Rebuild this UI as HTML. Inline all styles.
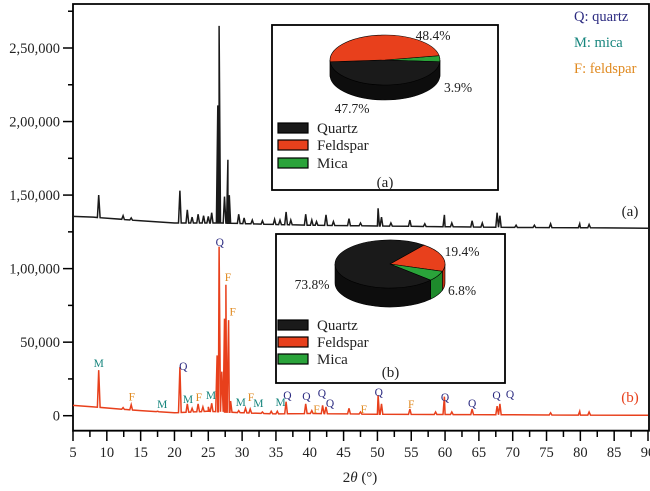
<!DOCTYPE html>
<html><head><meta charset="utf-8"><style>
html,body{margin:0;padding:0;background:#fff;}
svg{display:block;font-family:"Liberation Serif","DejaVu Serif",serif;}
</style></head><body>
<svg id="chart" width="650" height="491" viewBox="0 0 650 491" xmlns="http://www.w3.org/2000/svg">
<g id="plot"></g>
</svg>
<script>
// ---- data ----
const xTicks = [5,10,15,20,25,30,35,40,45,50,55,60,65,70,75,80,85,90];
const yTicks = [0,50000,100000,150000,200000,250000];
const yTickLabels = ["0","50,000","1,00,000","1,50,000","2,00,000","2,50,000"];
// series (a) baseline and peaks
const baseA_x = [5,8,15,20,27,35,40,50,60,70,80,90];
const baseA_y = [135500,135000,132500,131000,131000,130000,129500,129000,128500,128000,127800,127500];
const peaksA_x = [8.8,12.4,13.6,20.8,21.9,22.6,23.5,24.3,25.0,25.5,26.4,26.6,27.4,27.9,28.1,29.5,30.3,31.5,33.0,34.8,35.6,36.5,37.2,39.4,40.3,41.0,42.4,43.5,45.8,47.5,50.1,50.6,52.0,54.8,57.0,59.9,61.0,64.0,65.5,67.7,68.1,70.5,73.2,75.6,79.9,81.3];
const peaksA_y = [150000,136000,134500,153000,140000,135000,137000,136000,135500,138000,211000,265000,149000,174000,150000,137000,134500,133000,132500,133500,133000,138500,133000,137000,133000,132000,136500,132000,134000,131000,141000,135000,131000,133000,130500,136500,131000,132500,131000,138000,136000,129500,129500,130500,130500,130000];
// series (b) baseline and peaks
const baseB_x = [5,8,12,15,20,25,30,35,40,50,60,70,80,90];
const baseB_y = [7000,6000,4500,3500,2000,3000,2000,1200,1500,1000,800,600,400,300];
const peaksB_x = [8.8,12.4,13.6,17.5,20.8,21.9,22.6,23.5,24.2,25.0,25.5,26.3,26.6,27.0,27.4,27.6,27.9,28.0,28.3,29.5,30.5,31.2,33.0,34.3,35.2,36.5,39.4,40.3,41.9,42.4,45.8,47.5,50.1,50.6,54.8,58.6,59.9,61.0,64.0,67.7,68.1,75.6,79.9,81.3];
const peaksB_y = [31000,5500,7500,3000,33000,8000,5000,8000,6000,6000,8500,41000,115000,30000,66000,89000,40000,65000,10000,3500,5000,4500,2500,3000,3000,9500,8000,3500,7000,6000,5000,2500,14000,8000,4500,2500,13000,2500,4500,6500,8000,2000,3000,2500];
// phase annotations
const annText = ["M","F","M","Q","M","F","M","Q","F","F","M","F","M","M","Q","Q","Q","F","Q","F","Q","F","Q","Q","Q","Q"];
const annX = [8.8,13.7,18.2,21.3,22.0,23.6,25.4,26.7,27.9,28.6,29.8,31.3,32.4,35.7,36.7,39.5,41.8,41.0,43.0,48.0,50.2,55.0,60.0,64.0,67.6,69.6];
const annY = [36000,13000,8000,33800,11400,12700,14000,118000,94300,70700,9300,12700,8500,9300,14000,13400,15600,4500,8600,4500,16000,8000,12600,8600,14000,14800];
const pieA_labels = ["Quartz","Feldspar","Mica"];
const pieA_values = [47.7,48.4,3.9];
const pieB_values = [73.8,19.4,6.8];

// ---- axes ----
const X0=73, X1=649, Y0=430.7, Y1=4;
const xs = v => 73 + (v-5)*(648-73)/85;
const ys = v => 415.7 - v*1.4708/1000;
const NS="http://www.w3.org/2000/svg";
const g=document.getElementById('plot');
function mk(tag,attrs,parent){const e=document.createElementNS(NS,tag);for(const k in attrs)e.setAttribute(k,attrs[k]);(parent||g).appendChild(e);return e;}
function txt(s,attrs,parent){const e=mk('text',attrs,parent);e.textContent=s;return e;}

const frame=mk('path',{d:`M${X0},${Y1} H${X1} V${Y0} H${X0} Z`,fill:'none',stroke:'#000','stroke-width':1.8});



for(let v=0; v<=275000; v+=25000){
  const major = v%50000===0;
  const t=mk('line',{x1:major?63:68,x2:X0,y1:ys(v),y2:ys(v),stroke:'#000','stroke-width':1.5});
  
  
}
yTicks.forEach((v,i)=>{
  const t=txt(yTickLabels[i],{x:60,y:ys(v)+5,'text-anchor':'end','font-size':14.5,fill:'#222'});
  
  
});
for(let v=5; v<=90; v+=2.5){
  const major = v%5===0;
  const t=mk('line',{x1:xs(v),x2:xs(v),y1:Y0,y2:major?441:437,stroke:'#000','stroke-width':1.5});
  
  
}
xTicks.forEach(v=>{
  const t=txt(String(v),{x:xs(v),y:457,'text-anchor':'middle','font-size':14.5,fill:'#222'});
  
  
});
const xt=mk('text',{x:360,y:482,'text-anchor':'middle','font-size':15,fill:'#222'});
xt.innerHTML='2<tspan font-style="italic">θ</tspan> (°)';



function interp(bx,by,x){
  for(let i=0;i<bx.length-1;i++){ if(x>=bx[i]&&x<=bx[i+1]){const t=(x-bx[i])/(bx[i+1]-bx[i]);return by[i]+t*(by[i+1]-by[i]);} }
  return by[by.length-1];
}
function seriesPts(bx,by,px,py){
  const pts=[];
  let xsList=bx.map(v=>({x:v,y:null}));
  px.forEach((p,i)=>{xsList.push({x:p-0.2,y:null});xsList.push({x:p,y:py[i]});xsList.push({x:p+0.2,y:null});});
  xsList.sort((a,b)=>a.x-b.x);
  xsList.forEach(o=>{const y=o.y===null?interp(bx,by,o.x):o.y;pts.push(xs(o.x).toFixed(1)+','+ys(y).toFixed(1));});
  return pts.join(' ');
}
const lineA=mk('polyline',{points:seriesPts(baseA_x,baseA_y,peaksA_x,peaksA_y),fill:'none',stroke:'#1a1a1a','stroke-width':1.5});


const lineB=mk('polyline',{points:seriesPts(baseB_x,baseB_y,peaksB_x,peaksB_y),fill:'none',stroke:'#e8401c','stroke-width':1.5});



const la=txt('(a)',{x:630,y:216,'text-anchor':'middle','font-size':15,fill:'#222'});


const lb=txt('(b)',{x:630,y:402,'text-anchor':'middle','font-size':15,fill:'#e8401c'});



const annColor={Q:'#2b2a80',M:'#16857d',F:'#e08a20'};
annText.forEach((s,i)=>{
  const t=txt(s,{x:xs(annX[i]),y:ys(annY[i])+4,'text-anchor':'middle','font-size':11.5,fill:annColor[s]});
  
  
});

[['Q: quartz','#2b2a80',21],['M: mica','#16857d',47],['F: feldspar','#e08a20',73]].forEach(r=>{
  const t=txt(r[0],{x:574,y:r[2],'font-size':14.5,fill:r[1]});
  
  
});

const colors=['#1a1a1a','#e8401c','#2aa33a'];
const sideColors=['#0d0d0d','#c23010','#1e8a2c'];
function pie(grp,cx,cy,rx,ry,depth,vals,startDeg,order){
  const slices=[];let a=startDeg*Math.PI/180;
  order.forEach(i=>{const sw=vals[i]/100*2*Math.PI;slices.push({i,a0:a,a1:a+sw});a+=sw;});
  const P=(t,dy)=>[(cx+rx*Math.cos(t)).toFixed(2),(cy+ry*Math.sin(t)+(dy||0)).toFixed(2)];
  slices.forEach(s=>{
    for(let k=-2;k<=2;k++){
      const lo=Math.max(s.a0,k*2*Math.PI), hi=Math.min(s.a1,k*2*Math.PI+Math.PI);
      if(hi>lo){
        const p1=P(lo),p2=P(hi),p3=P(hi,depth),p4=P(lo,depth);
        const w=mk('path',{d:`M${p1} A${rx},${ry} 0 0 1 ${p2} L${p3} A${rx},${ry} 0 0 0 ${p4} Z`,fill:sideColors[s.i],stroke:'#000','stroke-width':0.6},grp);
        
        
      }
    }
  });
  slices.forEach(s=>{
    const p1=P(s.a0),p2=P(s.a1);const large=(s.a1-s.a0)>Math.PI?1:0;
    const w=mk('path',{d:`M${cx},${cy} L${p1} A${rx},${ry} 0 ${large} 1 ${p2} Z`,fill:colors[s.i],stroke:'#000','stroke-width':0.6},grp);
    
    
  });
}
function inset(name,x,y,w,h,cx,cy,rx,ry,depth,vals,start,order,labels,legY,tag,tagY){
  const grp=mk('g',{});
  
  
  mk('rect',{x,y,width:w,height:h,fill:'#fff',stroke:'#000','stroke-width':1.8},grp);
  pie(grp,cx,cy,rx,ry,depth,vals,start,order);
  labels.forEach(l=>{
    const t=txt(l[0],{x:l[1],y:l[2]+5,'text-anchor':'middle','font-size':13.5,fill:'#222'},grp);
    
    
  });
  pieA_labels.forEach((lab,i)=>{
    const r=mk('rect',{x:278,y:legY[i]-5,width:30,height:10,fill:colors[i],stroke:'#000','stroke-width':1.2},grp);
    
    
    const t=txt(lab,{x:317,y:legY[i]+5,'font-size':15,fill:'#222'},grp);
    
    
  });
  const t=txt(tag,{x:x+w/2,y:tagY,'text-anchor':'middle','font-size':15,fill:'#222'},grp);
  
  
}
inset('pie-inset-a',272,25,226,165,385,60,55,25,15,pieA_values,-10,[2,0,1],
  [['48.4%',433,35],['3.9%',458,87],['47.7%',352,108]],[128,145,163],'(a)',187);
inset('pie-inset-b',276,234,229,149,390,264,55,24,19,pieB_values,-52,[1,2,0],
  [['19.4%',462,251],['6.8%',462,290],['73.8%',312,284]],[325,342,359],'(b)',377);
</script>
</body></html>
